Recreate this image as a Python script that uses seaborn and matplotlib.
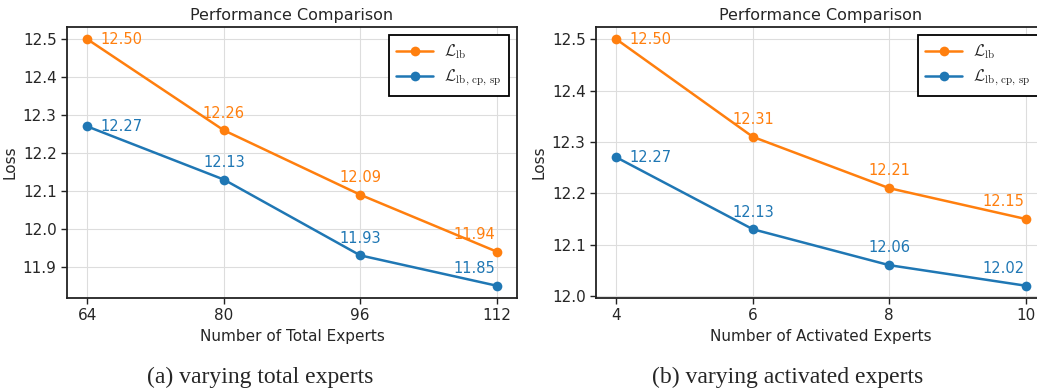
import matplotlib
matplotlib.use("Agg")
import matplotlib.pyplot as plt
import seaborn as sns
import pandas as pd

# ---- data ----
total_experts = [64, 80, 96, 112]
total_lb = [12.50, 12.26, 12.09, 11.94]
total_lb_cp_sp = [12.27, 12.13, 11.93, 11.85]

activated_experts = [4, 6, 8, 10]
act_lb = [12.50, 12.31, 12.21, 12.15]
act_lb_cp_sp = [12.27, 12.13, 12.06, 12.02]

series_labels = [r"$\mathcal{L}_{\mathrm{lb}}$",
                 r"$\mathcal{L}_{\mathrm{lb},\,\mathrm{cp},\,\mathrm{sp}}$"]
colors = ["#ff7f0e", "#1f77b4"]
xlabels = ["Number of Total Experts", "Number of Activated Experts"]
captions = ["(a) varying total experts", "(b) varying activated experts"]
title = "Performance Comparison"

sns.set_style("ticks")
plt.rcParams["font.family"] = ["DejaVu Sans"]
plt.rcParams["mathtext.fontset"] = "cm"

W, H = 1037, 391
fig = plt.figure(figsize=(W / 100, H / 100), dpi=100)
ax1 = fig.add_axes([67 / W, (H - 298) / H, 450 / W, 271 / H])
ax2 = fig.add_axes([596 / W, (H - 298) / H, 450 / W, 271 / H])


def draw(ax, xs, ys_list, xlabel):
    for ys, lab, c in zip(ys_list, series_labels, colors):
        df = pd.DataFrame({"x": xs, "y": ys})
        sns.lineplot(data=df, x="x", y="y", ax=ax, color=c, marker="o",
                     markersize=7, markeredgewidth=0, linewidth=1.8, label=lab)
        n = len(xs)
        for i, (xv, yv) in enumerate(zip(xs, ys)):
            if i == 0:
                ax.annotate(f"{yv:.2f}", (xv, yv), xytext=(9, 0),
                            textcoords="offset points", ha="left", va="center",
                            color=c, fontsize=10.5)
            elif i == n - 1:
                ax.annotate(f"{yv:.2f}", (xv, yv), xytext=(-1, 7),
                            textcoords="offset points", ha="right", va="bottom",
                            color=c, fontsize=10.5)
            else:
                ax.annotate(f"{yv:.2f}", (xv, yv), xytext=(0, 7),
                            textcoords="offset points", ha="center", va="bottom",
                            color=c, fontsize=10.5)
    ax.set_xticks(xs)
    ax.set_xlabel(xlabel, fontsize=11)
    ax.set_ylabel("Loss", fontsize=11)
    ax.set_title(title, fontsize=11.5, pad=5)
    ax.grid(True, color="#dddddd", linewidth=0.8)
    ax.tick_params(labelsize=11, direction="out", length=4, width=1, color="#222222")
    for s in ax.spines.values():
        s.set_color("#222222")
        s.set_linewidth(1.3)
    leg = ax.legend(loc="upper right", fontsize=11.5, fancybox=False,
                    framealpha=1, edgecolor="black", borderpad=0.45,
                    handlelength=2.3, labelspacing=0.45, handletextpad=0.7,
                    borderaxespad=0.5)
    leg.get_frame().set_linewidth(1.3)


draw(ax1, total_experts, [total_lb, total_lb_cp_sp], xlabels[0])
draw(ax2, activated_experts, [act_lb, act_lb_cp_sp], xlabels[1])

fig.text(260 / W, 1 - 377 / H, captions[0], ha="center", va="center",
         family="Liberation Serif", fontsize=17)
fig.text(788 / W, 1 - 377 / H, captions[1], ha="center", va="center",
         family="Liberation Serif", fontsize=17)

fig.savefig("out.png", dpi=100)
